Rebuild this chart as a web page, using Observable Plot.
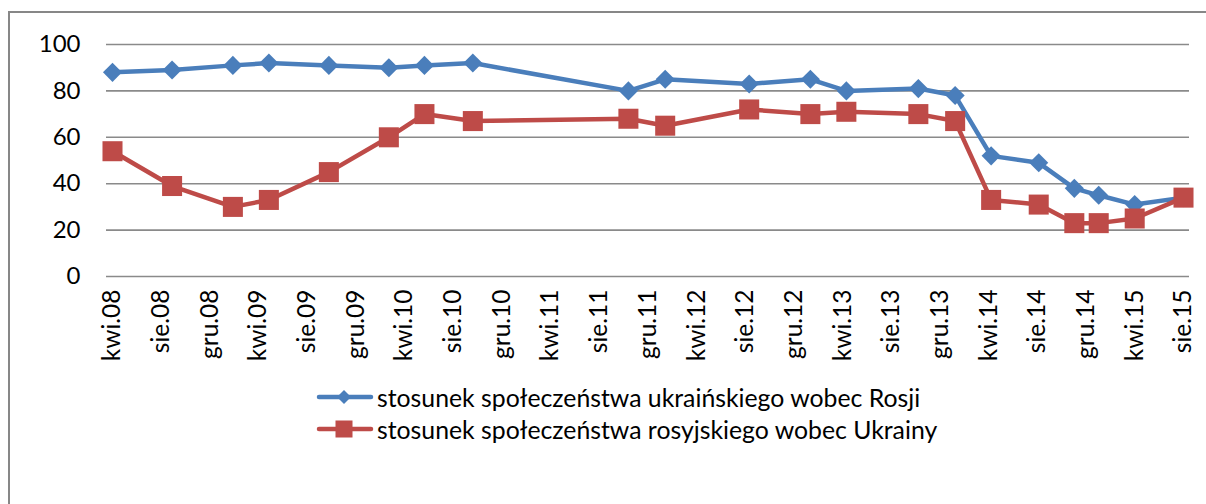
<!DOCTYPE html>
<html>
<head>
<meta charset="utf-8">
<script src="https://cdn.jsdelivr.net/npm/d3@7"></script>
<script src="https://cdn.jsdelivr.net/npm/@observablehq/plot@0.6"></script>
<style>
  html, body { margin: 0; padding: 0; background: #fff; overflow: hidden; }
  body { width: 1206px; height: 504px; position: relative; font-family: Lato, "Open Sans", sans-serif; }
  #chart { position: absolute; left: 0; top: 0; width: 1206px; height: 380px; }
  #frame { position: absolute; left: 0; top: 0; pointer-events: none; }
  #legend { position: absolute; left: 316px; top: 381px; }
  .row { display: flex; align-items: center; height: 32px; font-size: 24.8px; color: #000; white-space: nowrap; }
  .row svg { margin-right: 3px; }
</style>
</head>
<body>
<div id="chart"></div>
<svg id="frame" width="1206" height="504"><path d="M9,504 V12 H1206" fill="none" stroke="#878787" stroke-width="2"/></svg>
<div id="legend"></div>
<script>
// --- data ---
const dates = ["2008-04-01","2008-08-28","2009-01-27","2009-04-27","2009-09-24","2010-02-21","2010-05-21","2010-09-19","2011-10-13","2012-01-13","2012-08-10","2013-01-10","2013-04-10","2013-10-07","2014-01-07","2014-04-07","2014-08-04","2014-11-01","2015-01-01","2015-04-01","2015-08-01"];
const ukrToRussia = [88, 89, 91, 92, 91, 90, 91, 92, 80, 85, 83, 85, 80, 81, 78, 52, 49, 38, 35, 31, 34];
const rusToUkraine = [54, 39, 30, 33, 45, 60, 70, 67, 68, 65, 72, 70, 71, 70, 67, 33, 31, 23, 23, 25, 34];
const seriesNames = ["stosunek społeczeństwa ukraińskiego wobec Rosji", "stosunek społeczeństwa rosyjskiego wobec Ukrainy"];
const seriesColors = ["#4A7EBB", "#BE4B48"];
const xTickLabels = ["kwi.08","sie.08","gru.08","kwi.09","sie.09","gru.09","kwi.10","sie.10","gru.10","kwi.11","sie.11","gru.11","kwi.12","sie.12","gru.12","kwi.13","sie.13","gru.13","kwi.14","sie.14","gru.14","kwi.15","sie.15"];
const yTicks = [0, 20, 40, 60, 80, 100];

// --- build ---
const monthIdx = {kwi: 3, sie: 7, gru: 11};
const tickDates = xTickLabels.map(s => {
  const [m, y] = s.split(".");
  return new Date(Date.UTC(2000 + +y, monthIdx[m], 1));
});
const labelFor = new Map(tickDates.map((d, i) => [+d, xTickLabels[i]]));
const parse = s => new Date(s + "T00:00:00Z");
const rows = [];
dates.forEach((d, i) => {
  rows.push({date: parse(d), value: ukrToRussia[i], series: seriesNames[0]});
  rows.push({date: parse(d), value: rusToUkraine[i], series: seriesNames[1]});
});
const s0 = rows.filter(r => r.series === seriesNames[0]);
const s1 = rows.filter(r => r.series === seriesNames[1]);

const chart = Plot.plot({
  width: 1206,
  height: 380,
  marginLeft: 106,
  marginRight: 17,
  marginTop: 44,
  marginBottom: 104,
  style: {fontFamily: "Lato, 'Open Sans', sans-serif", fontSize: "24px", color: "#000", background: "transparent", overflow: "hidden"},
  x: {type: "utc", domain: [tickDates[0], tickDates[tickDates.length - 1]], insetLeft: 6, insetRight: 6},
  y: {domain: [0, 100]},
  marks: [
    Plot.ruleY(yTicks, {stroke: "#8a8a8a", strokeWidth: 1.6}),
    Plot.axisY({ticks: yTicks, tickSize: 0, tickPadding: 26, fontSize: 24, label: null}),
    Plot.axisX({ticks: tickDates, tickFormat: d => labelFor.get(+d), tickRotate: -90, tickSize: 0, tickPadding: 13, fontSize: 24.5, label: null}),
    Plot.line(s0, {x: "date", y: "value", stroke: seriesColors[0], strokeWidth: 4.5}),
    Plot.dot(s0, {x: "date", y: "value", symbol: "diamond2", r: 8.6, fill: seriesColors[0], stroke: "none"}),
    Plot.line(s1, {x: "date", y: "value", stroke: seriesColors[1], strokeWidth: 4.5}),
    Plot.dot(s1, {x: "date", y: "value", symbol: "square", r: 11.3, fill: seriesColors[1], stroke: "none"})
  ]
});
document.getElementById("chart").appendChild(chart);

// legend
const legend = document.getElementById("legend");
seriesNames.forEach((name, i) => {
  const row = document.createElement("div");
  row.className = "row";
  const marker = i === 0
    ? `<path d="M28,3 L35,10 L28,17 L21,10 Z" fill="${seriesColors[i]}"/>`
    : `<rect x="19.5" y="1.5" width="17" height="17" fill="${seriesColors[i]}"/>`;
  row.innerHTML = `<svg width="58" height="20"><line x1="3" y1="10" x2="55" y2="10" stroke="${seriesColors[i]}" stroke-width="4.5" stroke-linecap="round"/>${marker}</svg><span>${name}</span>`;
  legend.appendChild(row);
});
</script>
</body>
</html>
